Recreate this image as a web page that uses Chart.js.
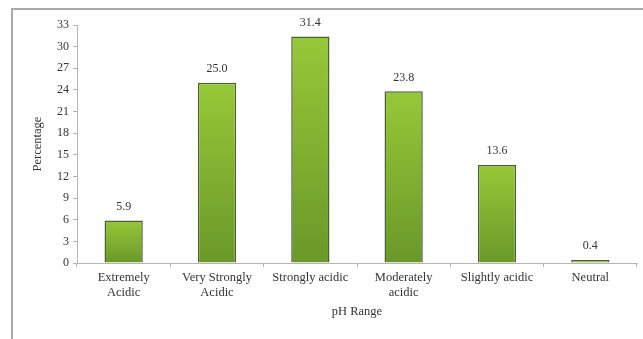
<!DOCTYPE html>
<html>
<head>
<meta charset="utf-8">
<script src="https://cdn.jsdelivr.net/npm/chart.js@4/dist/chart.umd.min.js"></script>
<style>
  html, body { margin: 0; padding: 0; background: #fff; }
  #wrap { position: relative; width: 643px; height: 339px; }
  #frame { position: absolute; left: 11px; top: 8px; right: -4px; bottom: -4px;
           border-left: 2px solid #a9a9a9; border-top: 2px solid #a9a9a9; }
  canvas { position: absolute; left: 0; top: 0; }
</style>
</head>
<body>
<div id="wrap">
  <div id="frame"></div>
  <canvas id="c" width="643" height="339"></canvas>
</div>
<script>
// pH classes of the sampled soils and their share of samples (%)
const categories = [
  ['Extremely', 'Acidic'],
  ['Very Strongly', 'Acidic'],
  'Strongly acidic',
  ['Moderately', 'acidic'],
  'Slightly acidic',
  'Neutral'
];
const percentages = [5.9, 25.0, 31.4, 23.8, 13.6, 0.4];
const yTicks = [0, 3, 6, 9, 12, 15, 18, 21, 24, 27, 30, 33];

const serif = '"Liberation Serif", "Times New Roman", serif';
const textColor = '#333';
const axisColor = '#b5b5b5';

// Green fill that darkens from the top of each bar towards the baseline
function barFill(ctx) {
  const chart = ctx.chart;
  const y = chart.scales && chart.scales.y;
  if (!chart.chartArea || !y || ctx.parsed === undefined) return '#86b833';
  const top = y.getPixelForValue(ctx.parsed.y);
  const bottom = y.getPixelForValue(0);
  if (!(bottom > top)) return '#86b833';
  const g = chart.ctx.createLinearGradient(0, top, 0, bottom);
  g.addColorStop(0, '#97c838');
  g.addColorStop(1, '#6a9829');
  return g;
}

// Writes each bar's value above it
const valueLabels = {
  id: 'valueLabels',
  afterDatasetsDraw(chart) {
    const ctx = chart.ctx;
    const meta = chart.getDatasetMeta(0);
    ctx.save();
    ctx.font = '12px ' + serif;
    ctx.fillStyle = textColor;
    ctx.textAlign = 'center';
    ctx.textBaseline = 'middle';
    meta.data.forEach((bar, i) => {
      ctx.fillText(percentages[i].toFixed(1), bar.x, bar.y - 14);
    });
    ctx.restore();
  }
};

new Chart(document.getElementById('c'), {
  type: 'bar',
  data: {
    labels: categories,
    datasets: [{
      data: percentages,
      backgroundColor: barFill,
      borderColor: '#4a6130',
      borderWidth: 1.5,
      barPercentage: 0.41,
      categoryPercentage: 1
    }]
  },
  options: {
    responsive: false,
    animation: false,
    devicePixelRatio: 1,
    layout: { padding: { left: 30, right: 6, top: 25, bottom: 20 } },
    plugins: { legend: { display: false }, tooltip: { enabled: false } },
    scales: {
      x: {
        afterFit(scale) { scale.height = 56; },
        border: { color: axisColor, width: 1 },
        grid: { drawOnChartArea: false, color: axisColor, tickLength: 4, offset: true },
        ticks: { color: textColor, font: { family: serif, size: 12.5 }, padding: 3, maxRotation: 0, autoSkip: false },
        title: { display: true, text: 'pH Range', color: textColor, font: { family: serif, size: 12.5 }, padding: 0 }
      },
      y: {
        min: 0,
        max: 33,
        afterFit(scale) { scale.width = 47; },
        afterBuildTicks(scale) { scale.ticks = yTicks.map(v => ({ value: v })); },
        border: { color: axisColor, width: 1 },
        grid: { drawOnChartArea: false, color: axisColor, tickLength: 4 },
        ticks: { color: textColor, font: { family: serif, size: 12 }, padding: 4 },
        title: { display: true, text: 'Percentage', color: textColor, font: { family: serif, size: 12.5 }, padding: 0 }
      }
    }
  },
  plugins: [valueLabels]
});
</script>
</body>
</html>
